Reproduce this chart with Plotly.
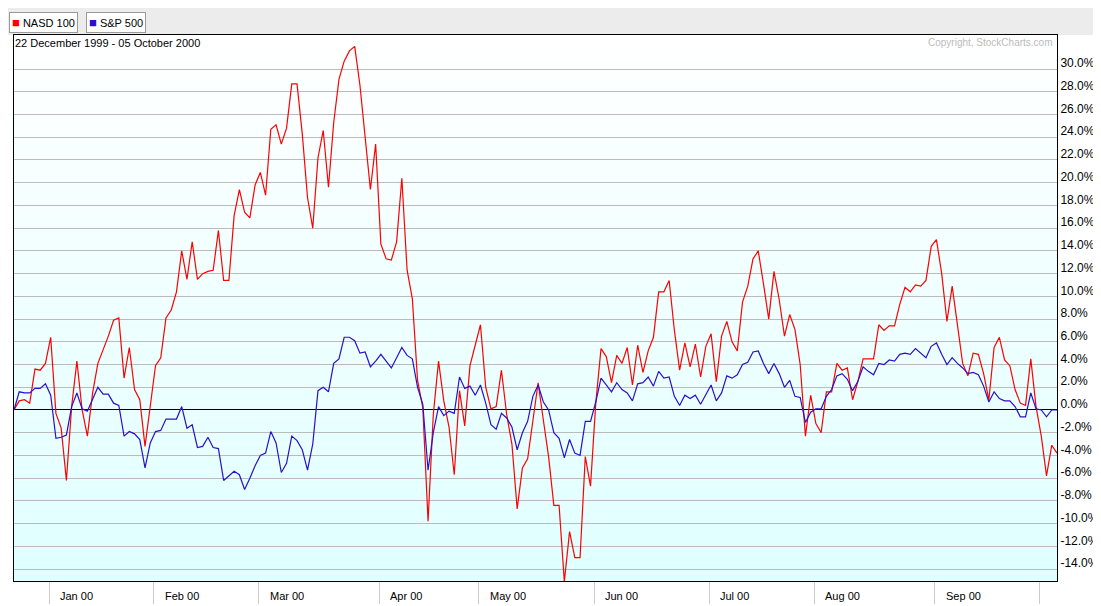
import plotly.graph_objects as go

# Trading days, 22 Dec 1999 - 05 Oct 2000 (200 sessions)
n_days = 200
month_start_idx = [7, 27, 47, 70, 89, 111, 133, 153, 176, 196]
month_labels = ['Jan 00', 'Feb 00', 'Mar 00', 'Apr 00', 'May 00', 'Jun 00',
                'Jul 00', 'Aug 00', 'Sep 00', '']

# Percent change from start
nasd_100 = [
    0, 0.8, 0.9, 0.6, 3.6, 3.5, 4.1, 6.4, -0.3, -1.6,
    -6.2, 0.3, 4.3, 0, -2.3, 1.5, 4.1, 5.3, 6.5, 7.9,
    8.1, 2.8, 5.5, 1.8, 0.9, -3.2, 0.3, 3.9, 4.6, 8.1,
    8.8, 10.4, 14.0, 11.5, 14.8, 11.5, 12.0, 12.2, 12.3, 15.8,
    11.4, 11.4, 17.1, 19.4, 17.4, 16.9, 19.8, 20.9, 18.9, 24.7,
    25.1, 23.4, 24.8, 28.7, 28.7, 24.3, 18.7, 16.0, 22.2, 24.6,
    19.6, 25.3, 29.1, 30.7, 31.6, 32.0, 28.6, 24.3, 19.4, 23.4,
    14.6, 13.3, 13.2, 14.8, 20.4, 12.3, 9.8, 2.6, 0.2, -9.8,
    -0.4, 4.3, 0.8, -1.5, -5.7, 1.7, -1.4, 3.9, 5.7, 7.5,
    2.0, 0.1, 0.3, 3.5, -0.4, -3.0, -8.7, -5.1, -4.3, -1.0,
    2.4, -0.9, -4.1, -8.4, -8.4, -15.1, -10.7, -13.0, -13.0, -4.1,
    -6.7, 0.6, 5.4, 4.7, 2.4, 4.8, 4.1, 5.5, 2.2, 5.7,
    3.3, 5.2, 6.4, 10.4, 10.4, 11.4, 7.0, 3.5, 5.9, 3.8,
    5.8, 2.9, 5.6, 6.7, 2.5, 6.5, 7.8, 6.0, 5.2, 9.5,
    10.9, 13.3, 14.0, 11.1, 8.0, 12.2, 9.7, 6.5, 8.4, 7.1,
    4.0, -2.3, 1.3, -1.2, -2.0, 1.6, 1.6, 4.1, 3.5, 3.7,
    0.9, 2.5, 4.5, 4.5, 4.5, 7.5, 7.0, 7.4, 7.4, 9.3,
    10.8, 10.4, 11.0, 10.9, 11.4, 14.4, 15.0, 12.0, 7.8, 10.9,
    7.3, 4.1, 3.0, 5.0, 4.9, 3.2, 0.9, 5.5, 6.4, 4.4,
    3.9, 1.8, 0.6, 0.4, 4.5, 0.3, -2.3, -5.8, -3.1, -3.8,
]
sp_500 = [
    0, 1.6, 1.5, 1.5, 1.9, 1.9, 2.3, 1.3, -2.5, -2.4,
    -2.2, 0.3, 1.5, 0.1, -0.1, 1.0, 2.0, 1.4, 1.4, 0.6,
    0.4, -2.3, -1.9, -2.1, -2.6, -5.1, -2.9, -1.9, -1.8, -0.8,
    -0.8, -0.8, 0.3, -1.6, -1.3, -3.3, -3.2, -2.4, -3.3, -3.4,
    -6.2, -5.8, -5.4, -5.7, -7.0, -6.0, -4.9, -4.0, -3.8, -1.9,
    -2.9, -5.5, -4.7, -2.3, -2.7, -3.5, -5.3, -3.0, 1.7, 2.0,
    1.6, 4.1, 4.5, 6.4, 6.4, 6.1, 5.0, 5.1, 3.8, 4.3,
    4.9, 4.3, 3.7, 4.6, 5.5, 4.8, 4.5, 2.0, 0.5, -5.3,
    -2.0, 0.3, -0.5, -0.1, -0.3, 2.9, 1.9, 2.1, 1.3, 2.2,
    0.6, -1.3, -1.7, -0.3, -0.7, -1.5, -3.5, -2.0, -1.0, 1.2,
    2.2, 0.7, 0, -2.0, -2.5, -4.2, -2.6, -3.8, -4.0, -1.0,
    -1.0, 0.7, 2.8, 2.2, 1.6, 2.4, 1.8, 1.5, 0.8, 2.3,
    2.4, 2.9, 2.1, 3.4, 2.8, 2.9, 1.2, 0.4, 1.3, 1.0,
    1.3, 0.5, 1.4, 2.2, 0.8, 1.5, 3.0, 2.8, 3.1, 4.0,
    4.2, 5.1, 5.2, 4.1, 3.2, 4.1, 3.2, 2.0, 2.6, 1.2,
    1.1, -1.1, -0.2, 0.1, 0.1, 1.2, 1.8, 3.0, 3.2, 2.7,
    1.7, 2.5, 3.8, 3.4, 3.1, 4.1, 4.0, 4.4, 4.3, 4.9,
    5.0, 4.9, 5.4, 5.0, 4.6, 5.6, 5.9, 4.9, 4.0, 4.6,
    4.1, 3.7, 3.2, 3.3, 3.1, 2.1, 0.7, 1.6, 1.0, 0.8,
    0.8, 0.3, -0.6, -0.6, 1.5, 0.1, 0, -0.6, 0, 0,
]
y_ticks = list(range(-14, 31, 2))

x = list(range(n_days))
fig = go.Figure()

# Gradient plot background: white at top to pale cyan at bottom
bands = 40
shapes = []
for i in range(bands):
    t = i / (bands - 1)
    g = int(255 - t * 31)
    shapes.append(dict(type='rect', xref='paper', yref='paper',
                       x0=0, x1=1, y0=1 - (i + 1) / bands, y1=1 - i / bands,
                       fillcolor=f'rgb({g},255,255)', line_width=0, layer='below'))
# grey header strip
shapes.append(dict(type='rect', xref='paper', yref='paper', x0=-0.01, x1=1.05,
                   y0=1.0, y1=1.05, fillcolor='#ececec', line_width=0, layer='below'))
fig.update_layout(shapes=shapes)

fig.add_trace(go.Scatter(x=x, y=nasd_100, mode='lines', name='NASD 100',
                         line=dict(color='#ff0000', width=1.2)))
fig.add_trace(go.Scatter(x=x, y=sp_500, mode='lines', name='S&P 500',
                         line=dict(color='#2a10cc', width=1.2)))

annotations = [
    dict(text="<span style='color:#ff0000;font-size:13px'>■</span> NASD 100", xref='paper', yref='paper',
         x=-0.005, y=1.043, xanchor='left', yanchor='top', showarrow=False,
         bordercolor='#999', borderwidth=1, bgcolor='white', borderpad=2,
         font=dict(size=11, color='black')),
    dict(text="<span style='color:#2a10cc;font-size:13px'>■</span> S&P 500", xref='paper', yref='paper',
         x=0.069, y=1.043, xanchor='left', yanchor='top', showarrow=False,
         bordercolor='#999', borderwidth=1, bgcolor='white', borderpad=2,
         font=dict(size=11, color='black')),
    dict(text='22 December 1999 - 05 October 2000', xref='paper', yref='paper',
         x=-0.001, y=1.0, xanchor='left', yanchor='top', showarrow=False,
         font=dict(size=11, color='black')),
    dict(text='Copyright, StockCharts.com', xref='paper', yref='paper',
         x=0.998, y=1.0, xanchor='right', yanchor='top', showarrow=False,
         font=dict(size=10, color='#bbbbbb')),
]
for idx, lab in zip(month_start_idx, month_labels):
    if lab:
        annotations.append(dict(text=lab, x=idx + 1.4, xref='x', y=-0.012, yref='paper',
                                xanchor='left', yanchor='top', showarrow=False,
                                font=dict(size=11, color='black')))

# page body adds an 8px offset, so the figure is drawn slightly smaller
fig.update_layout(
    width=1093, height=598,
    margin=dict(l=6, r=44, t=27, b=25, autoexpand=False),
    paper_bgcolor='white',
    plot_bgcolor='rgba(0,0,0,0)',
    showlegend=False,
    font=dict(family='Arial, Liberation Sans, sans-serif', size=12, color='black'),
    annotations=annotations,
    xaxis=dict(range=[0, n_days - 1], tickvals=[i - 0.3 for i in month_start_idx],
               showticklabels=False, ticks='outside', ticklen=22, tickcolor='#cccccc',
               showgrid=False, zeroline=False, showline=True, linecolor='black',
               mirror=True, linewidth=1, automargin=False),
    yaxis=dict(range=[-15.05, 33.0], side='right', tickvals=y_ticks,
               ticktext=[f'{v:.1f}%' for v in y_ticks], ticks='', ticklabelshift=-6,
               showgrid=True, gridcolor='#bbbbbb', gridwidth=1,
               zeroline=True, zerolinecolor='black', zerolinewidth=1,
               showline=True, linecolor='black', mirror=True, linewidth=1,
               automargin=False),
)

fig.write_html('out.html')
